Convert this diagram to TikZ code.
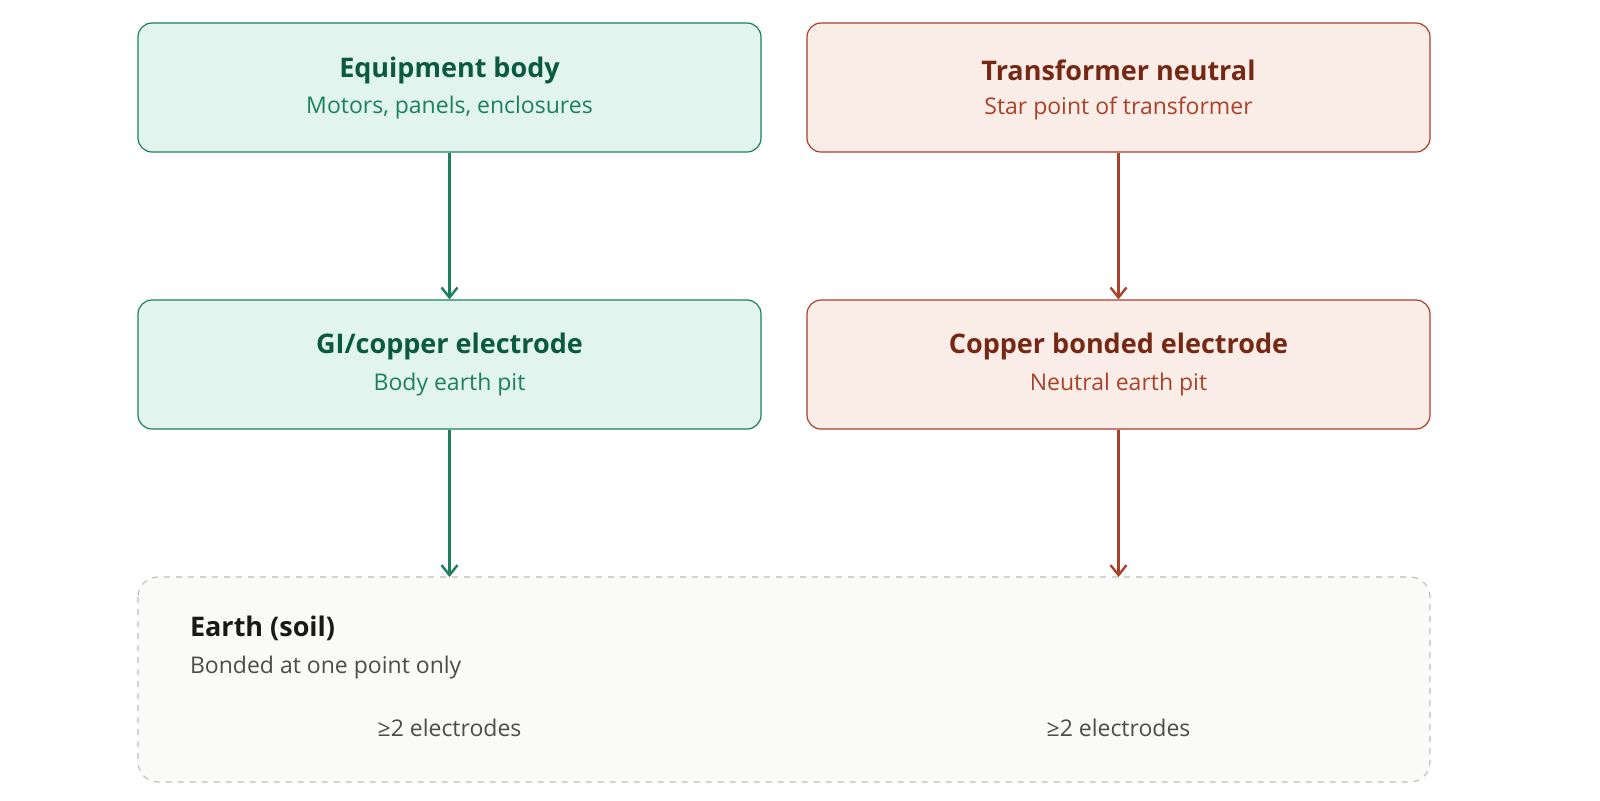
\documentclass[tikz,border=0pt]{standalone}
\usepackage{fontspec}
\setmainfont{Open Sans}
\usetikzlibrary{positioning,arrows.meta}
\definecolor{grnfill}{HTML}{E1F5EE}
\definecolor{grnline}{HTML}{1D7F60}
\definecolor{grntext}{HTML}{0B5A40}
\definecolor{redfill}{HTML}{FAECE7}
\definecolor{redline}{HTML}{A8432A}
\definecolor{redtext}{HTML}{752914}
\definecolor{soilfill}{HTML}{FAFAF8}
\tikzset{
  box/.style={rounded corners=7pt, minimum width=311.5pt, minimum height=64.5pt, line width=0.6pt},
  gbox/.style={box, draw=grnline, fill=grnfill},
  rbox/.style={box, draw=redline, fill=redfill},
  ttl/.style={font=\fontsize{13.5}{16}\selectfont\bfseries},
  sub/.style={font=\fontsize{11.5}{14}\selectfont},
  garr/.style={draw=grnline, line width=1.2pt, -{Straight Barb[length=5pt,width=8pt]}},
  rarr/.style={draw=redline, line width=1.2pt, -{Straight Barb[length=5pt,width=8pt]}},
}
\begin{document}
\begin{tikzpicture}[x=0.5pt,y=-0.5pt]
        \useasboundingbox (0,0) rectangle (1600,800);
        % boxes
        \node[gbox] (body) at (449.5,87.5) {};
        \node[gbox] (bpit) at (449.5,364.5) {};
        \node[rbox] (neut) at (1118.5,87.5) {};
        \node[rbox] (npit) at (1118.5,364.5) {};
        \draw[rounded corners=10pt, draw=black!25, fill=soilfill, dashed, line width=0.6pt] (138,577) rectangle (1430,782);
        \coordinate (gin) at (449.5,577);
        \coordinate (rin) at (1118.5,577);

        % Text
        \node[ttl, text=grntext] at (449.5,70) {Equipment body};
        \node[sub, text=grnline] at (449.5,108) {Motors, panels, enclosures};
        \node[ttl, text=grntext] at (449.5,346) {GI/copper electrode};
        \node[sub, text=grnline] at (449.5,385) {Body earth pit};
        \node[ttl, text=redtext] at (1118.5,70) {Transformer neutral};
        \node[sub, text=redline] at (1118.5,108) {Star point of transformer};
        \node[ttl, text=redtext] at (1118.5,346) {Copper bonded electrode};
        \node[sub, text=redline] at (1118.5,385) {Neutral earth pit};
        \node[ttl, anchor=west, text=black!90] at (183,628) {Earth (soil)};
        \node[sub, anchor=west, text=black!70] at (183,668) {Bonded at one point only};
        \node[sub, text=black!70] at (449.5,728) {≥2 electrodes};
        \node[sub, text=black!70] at (1118.5,728) {≥2 electrodes};

        % connectors
        \draw[garr] (body) -- (bpit);
        \draw[garr] (bpit) -- (gin);
        \draw[rarr] (neut) -- (npit);
        \draw[rarr] (npit) -- (rin);
\end{tikzpicture}
\end{document}
